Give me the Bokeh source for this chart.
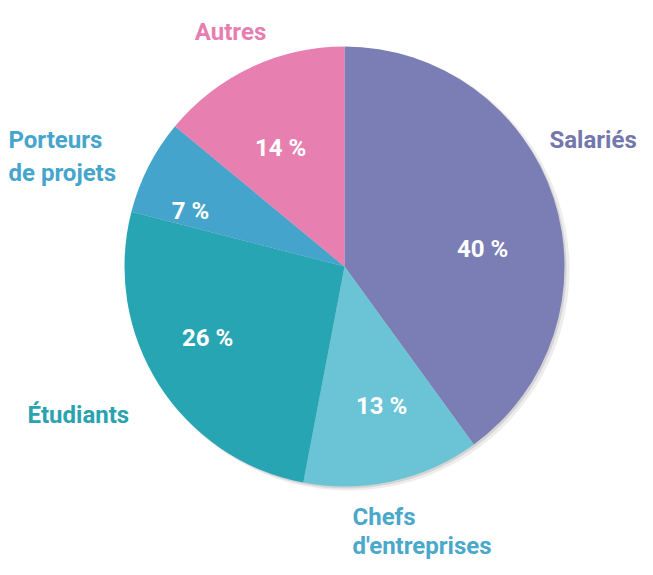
import math
from bokeh.plotting import figure
from bokeh.models import Range1d, ColumnDataSource
from bokeh.core.properties import value
from bokeh.embed import file_html
from bokeh.resources import INLINE

# ---- data ----
categories = ["Salariés", "Chefs d'entreprises", "Étudiants", "Porteurs de projets", "Autres"]
shares = [40, 13, 26, 7, 14]
pct_labels = ["40 %", "13 %", "26 %", "7 %", "14 %"]

# ---- style / layout ----
slice_colors = ["#7b7eb4", "#6bc3d6", "#27a5b3", "#45a4cc", "#e77fb0"]
label_colors = ["#7476ae", "#4aa8cb", "#2aa2b0", "#45a5cc", "#e87db2"]
W, H = 637, 559
FONT = "Roboto"
FS = "24px"

def px(x):
    return x

def py(y):
    return H - y

cx, cy, R = 344, py(266), 220

p = figure(width=W, height=H, output_backend="svg", toolbar_location=None,
           x_range=Range1d(0, W), y_range=Range1d(0, H), min_border=0)
p.axis.visible = False
p.grid.visible = False
p.outline_line_color = None
p.background_fill_color = "white"
p.border_fill_color = "white"

# soft shadow
p.circle(x=[cx + 4], y=[cy - 3], radius=R + 1, fill_color="#000000", fill_alpha=0.07, line_color=None)
p.circle(x=[cx + 2], y=[cy - 2], radius=R, fill_color="#000000", fill_alpha=0.10, line_color=None)

# wedges, clockwise from top
total = float(sum(shares))
starts, ends = [], []
cum = 0.0
for s in shares:
    a0 = math.pi / 2 - 2 * math.pi * cum / total
    a1 = math.pi / 2 - 2 * math.pi * (cum + s) / total
    starts.append(a1)
    ends.append(a0)
    cum += s

src = ColumnDataSource(dict(cat=categories, share=shares, start=starts, end=ends,
                            color=slice_colors))
p.wedge(x=cx, y=cy, radius=R, start_angle="start", end_angle="end",
        fill_color="color", line_color=None, source=src)

# percentage labels (baseline positions in page pixels)
pct_pos = [(482, 248), (381, 405), (207, 337), (190, 210), (280, 147)]
p.text(x=[px(a) for a, b in pct_pos], y=[py(b) for a, b in pct_pos], text=pct_labels,
       text_color="white", text_font=value(FONT), text_font_style="bold",
       text_font_size=FS, text_align="center", text_baseline="alphabetic")

# category labels: list of lines per category with (x, baselines, align)
cat_lines = [
    (["Salariés"], 549, [139], "left"),
    (["Chefs", "d'entreprises"], 352, [516, 545], "left"),
    (["Étudiants"], 27, [414], "left"),
    (["Porteurs", "de projets"], 8, [139, 172], "left"),
    (["Autres"], 230, [31], "center"),
]
for (lines, x0, ys, align), col in zip(cat_lines, label_colors):
    p.text(x=[px(x0)] * len(lines), y=[py(v) for v in ys], text=lines,
           text_color=col, text_font=value(FONT), text_font_style="bold",
           text_font_size=FS, text_align=align, text_baseline="alphabetic")

open("out.html", "w").write(file_html(p, INLINE))
